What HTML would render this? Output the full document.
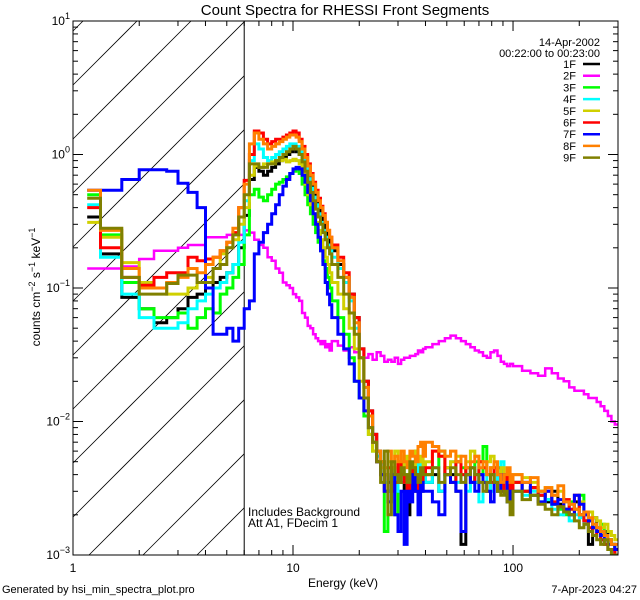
<!DOCTYPE html>
<html><head><meta charset="utf-8">
<style>
html,body{margin:0;padding:0;background:#fff;width:640px;height:600px;overflow:hidden;}
svg{display:block;font-family:"Liberation Sans",sans-serif;}
</style></head>
<body>
<svg id="chart" width="640" height="600" viewBox="0 0 640 600" xmlns="http://www.w3.org/2000/svg">
<rect x="0" y="0" width="640" height="600" fill="#fff"/>
<text x="345" y="15" font-size="15" text-anchor="middle">Count Spectra for RHESSI Front Segments</text>
<text x="343" y="587" font-size="12" text-anchor="middle">Energy (keV)</text>
<text transform="translate(40,287) rotate(-90)" font-size="12" text-anchor="middle">counts cm<tspan dy="-5" font-size="9">−2</tspan><tspan dy="5"> s</tspan><tspan dy="-5" font-size="9">−1</tspan><tspan dy="5"> keV</tspan><tspan dy="-5" font-size="9">−1</tspan></text>
<text x="2" y="593" font-size="11">Generated by hsi_min_spectra_plot.pro</text>
<text x="637" y="593" font-size="11" text-anchor="end">7-Apr-2023 04:27</text>
<text x="600" y="46" font-size="11" text-anchor="end">14-Apr-2002</text>
<text x="600" y="57" font-size="11" text-anchor="end">00:22:00 to 00:23:00</text>
<text x="248" y="516" font-size="12">Includes Background</text>
<text x="248" y="527" font-size="12">Att A1, FDecim 1</text>
<g id="layer"></g>
</svg>
<script>
// ---- data ----
const segmentNames = ["1F","2F","3F","4F","5F","6F","7F","8F","9F"];
const segmentColors = ["#000000","#ff00ff","#00ff00","#00ffff","#d0d000","#ff0000","#0000ff","#ff8000","#808000"];
const xTickLabels = ["1","10","100"];
const xTickValues = [1,10,100];
const yTickExps = [1,0,-1,-2,-3];

const seg1F = [0.34,0.18,0.085,0.07,0.055,0.06,0.07,0.085,0.09,0.10,0.11,0.12,0.13,0.15,0.20,0.35,0.65,0.80,0.75,0.70,0.75,0.80,0.85,0.90,0.95,1.0,1.05,1.1,1.05,1.0,0.9,0.8,0.7,0.6,0.52,0.45,0.40,0.34,0.30,0.26,0.23,0.21,
 0.19,0.15,0.12,0.09,0.06,0.035,0.02,0.012,0.008,0.006,0.005,0.004,0.0035,0.004,0.003,0.0045,0.0035,0.003,0.002,0.004,0.0035,0.003,0.0045,0.003,0.004,
 0.0035,0.004,0.003,0.0045,0.004,0.003,0.0012,0.004,0.0045,0.0035,0.004,0.0035,0.003,0.004,0.0035,0.0045,0.004,0.003,0.0025,0.0035,
 0.0035,0.003,0.0032,0.0028,0.0025,0.003,0.0024,0.0022,0.002,0.0025,0.002,0.0018,0.0012,0.0019,0.0016,0.0014,0.0015,0.0013,0.0012,0.0009];
const seg2F = [0.14,0.14,0.145,0.165,0.19,0.19,0.20,0.21,0.21,0.24,0.24,0.24,0.25,0.25,0.25,0.27,0.26,0.23,0.21,0.20,0.17,0.16,0.14,0.13,0.11,0.105,0.10,0.09,0.085,0.08,0.065,0.06,0.052,0.05,0.045,0.042,0.04,0.038,0.04,0.036,0.038,0.034,
 0.04,0.037,0.034,0.036,0.033,0.035,0.03,0.032,0.029,0.033,0.031,0.028,0.029,0.028,0.03,0.027,0.029,0.030,0.03,0.031,0.031,0.032,0.034,0.033,0.035,
 0.036,0.038,0.040,0.042,0.044,0.042,0.040,0.038,0.036,0.034,0.033,0.031,0.030,0.033,0.034,0.031,0.028,0.027,0.026,0.027,
 0.026,0.024,0.023,0.022,0.025,0.023,0.021,0.020,0.018,0.017,0.017,0.016,0.015,0.015,0.014,0.013,0.012,0.011,0.010,0.0095];
const seg3F = [0.50,0.25,0.11,0.07,0.06,0.06,0.065,0.05,0.06,0.07,0.065,0.09,0.10,0.12,0.15,0.25,0.50,0.55,0.48,0.45,0.50,0.55,0.60,0.62,0.65,0.68,0.72,0.75,0.78,0.72,0.6,0.5,0.42,0.36,0.30,0.26,0.22,0.19,0.16,0.14,0.12,0.10,
 0.08,0.06,0.045,0.03,0.02,0.015,0.011,0.008,0.006,0.005,0.004,0.0015,0.003,0.0045,0.002,0.0035,0.005,0.004,0.003,0.0045,0.004,0.006,0.005,0.0035,0.004,
 0.004,0.0045,0.006,0.004,0.0035,0.005,0.0045,0.004,0.0035,0.005,0.004,0.0065,0.004,0.0045,0.0035,0.003,0.0035,0.003,0.0028,0.0025,
 0.0035,0.003,0.0028,0.003,0.0026,0.0024,0.0022,0.002,0.0025,0.0022,0.0028,0.002,0.0018,0.0016,0.0015,0.0017,0.0014,0.0013,0.0012,0.0011];
const seg4F = [0.42,0.17,0.09,0.06,0.05,0.05,0.055,0.07,0.08,0.09,0.10,0.11,0.13,0.15,0.22,0.45,0.90,1.2,1.1,0.95,0.9,0.95,1.0,1.05,1.1,1.15,1.2,1.2,1.15,1.05,0.9,0.78,0.66,0.56,0.48,0.42,0.36,0.31,0.27,0.24,0.21,0.19,
 0.17,0.14,0.11,0.08,0.05,0.03,0.018,0.011,0.007,0.0055,0.004,0.0035,0.003,0.004,0.003,0.0045,0.004,0.0035,0.003,0.004,0.0035,0.003,0.005,0.0035,0.004,
 0.0035,0.0045,0.003,0.004,0.005,0.0035,0.004,0.003,0.0045,0.0035,0.0025,0.004,0.0035,0.003,0.004,0.0035,0.005,0.003,0.0025,0.003,
 0.003,0.0028,0.003,0.0025,0.0026,0.0022,0.002,0.0025,0.0018,0.002,0.0019,0.0017,0.0015,0.0014,0.0016,0.0013,0.0012,0.0011,0.0010,0.0010];
const seg5F = [0.31,0.24,0.155,0.11,0.10,0.09,0.09,0.10,0.11,0.12,0.14,0.18,0.20,0.23,0.30,0.40,0.70,0.82,0.80,0.85,0.85,0.88,0.90,0.90,0.92,0.88,0.90,0.92,0.90,0.85,0.75,0.6,0.5,0.42,0.36,0.31,0.27,0.23,0.2,0.17,0.15,0.13,
 0.11,0.09,0.07,0.05,0.035,0.02,0.012,0.008,0.006,0.005,0.0045,0.004,0.005,0.0045,0.006,0.005,0.0045,0.0055,0.005,0.004,0.0045,0.006,0.005,0.0055,0.0045,
 0.005,0.006,0.0055,0.0045,0.005,0.0055,0.004,0.005,0.006,0.0055,0.005,0.0045,0.005,0.0055,0.0045,0.004,0.0045,0.0035,0.004,0.0035,
 0.004,0.0038,0.0035,0.003,0.0032,0.0028,0.003,0.0026,0.0024,0.0022,0.0025,0.002,0.0021,0.0019,0.0018,0.0016,0.0017,0.0015,0.0014,0.0013];
const seg6F = [0.40,0.20,0.12,0.105,0.12,0.13,0.13,0.17,0.16,0.165,0.17,0.19,0.22,0.26,0.40,0.64,1.0,1.5,1.45,1.3,1.2,1.25,1.3,1.3,1.35,1.4,1.45,1.5,1.45,1.3,1.15,1.0,0.85,0.72,0.62,0.54,0.47,0.41,0.36,0.31,0.27,0.24,
 0.21,0.17,0.13,0.09,0.06,0.035,0.02,0.012,0.008,0.005,0.004,0.003,0.0045,0.003,0.0035,0.005,0.004,0.0035,0.003,0.004,0.0045,0.003,0.004,0.0035,0.004,
 0.0045,0.006,0.0055,0.004,0.0035,0.005,0.004,0.0045,0.0035,0.004,0.005,0.0045,0.004,0.0035,0.0045,0.004,0.003,0.0035,0.004,0.003,
 0.0035,0.003,0.0032,0.0028,0.003,0.0025,0.0023,0.0026,0.0022,0.0028,0.002,0.0018,0.0016,0.0014,0.0015,0.0013,0.0012,0.0011,0.0011,0.0010];
const seg7F = [0.54,0.54,0.65,0.77,0.77,0.75,0.61,0.52,0.40,0.10,0.045,0.045,0.05,0.04,0.05,0.07,0.08,0.18,0.22,0.26,0.30,0.36,0.42,0.50,0.58,0.65,0.72,0.78,0.80,0.78,0.70,0.62,0.52,0.45,0.36,0.30,0.24,0.19,0.15,0.11,0.09,0.075,
 0.06,0.045,0.035,0.027,0.02,0.015,0.012,0.009,0.007,0.005,0.004,0.003,0.0025,0.004,0.002,0.0015,0.003,0.0012,0.003,0.0025,0.004,0.003,0.002,0.0035,0.003,
 0.003,0.0025,0.002,0.004,0.0035,0.003,0.0015,0.004,0.0035,0.003,0.004,0.0035,0.003,0.0025,0.0035,0.003,0.004,0.0035,0.0025,0.003,
 0.003,0.0035,0.0028,0.0025,0.003,0.0024,0.0026,0.0022,0.002,0.0028,0.0024,0.002,0.0018,0.0016,0.0015,0.0014,0.0013,0.0012,0.0012,0.0011];
const seg8F = [0.54,0.27,0.14,0.10,0.10,0.11,0.12,0.14,0.13,0.15,0.17,0.19,0.22,0.28,0.40,0.60,1.2,1.45,1.3,1.2,1.1,1.15,1.2,1.25,1.3,1.35,1.4,1.4,1.35,1.25,1.1,0.95,0.82,0.7,0.6,0.52,0.45,0.4,0.35,0.31,0.27,0.24,
 0.2,0.16,0.12,0.085,0.055,0.03,0.018,0.011,0.007,0.006,0.005,0.0045,0.006,0.005,0.0055,0.005,0.006,0.005,0.0045,0.006,0.0055,0.005,0.0065,0.007,0.0055,
 0.007,0.0065,0.006,0.0055,0.006,0.005,0.0055,0.0045,0.005,0.0055,0.0045,0.005,0.004,0.0045,0.005,0.004,0.0035,0.004,0.0045,0.0035,
 0.004,0.0035,0.0038,0.003,0.0032,0.0028,0.0033,0.0025,0.0024,0.0022,0.002,0.0021,0.0019,0.0017,0.0016,0.0015,0.0014,0.0013,0.0012,0.0012];
const seg9F = [0.47,0.28,0.12,0.09,0.09,0.108,0.125,0.125,0.11,0.11,0.14,0.15,0.20,0.25,0.34,0.50,0.85,0.85,0.80,0.80,0.85,0.85,0.90,0.95,1.0,1.05,1.1,1.15,1.1,1.0,0.88,0.75,0.62,0.52,0.45,0.39,0.34,0.30,0.26,0.23,0.2,0.18,
 0.15,0.12,0.09,0.065,0.045,0.03,0.015,0.009,0.007,0.005,0.0035,0.006,0.002,0.005,0.004,0.0035,0.0045,0.004,0.0035,0.005,0.0045,0.004,0.0035,0.0045,0.004,
 0.004,0.0045,0.0035,0.004,0.0045,0.004,0.0035,0.004,0.0045,0.004,0.0035,0.003,0.0035,0.004,0.0035,0.003,0.0028,0.003,0.0025,0.002,
 0.003,0.0026,0.0028,0.0024,0.0022,0.002,0.0023,0.0021,0.002,0.0018,0.0016,0.0017,0.0015,0.0014,0.0013,0.0012,0.0013,0.0011,0.001,0.001];
const seriesValues = [seg1F,seg2F,seg3F,seg4F,seg5F,seg6F,seg7F,seg8F,seg9F];

// ---- layout ----
const NS = "http://www.w3.org/2000/svg";
const L = 73, R = 618, T = 21, B = 555;
const xMin = 1, xMax = 300, yMinExp = -3, yMaxExp = 1;
function xScale(e){ return L + (R - L) * (Math.log10(e) - Math.log10(xMin)) / (Math.log10(xMax) - Math.log10(xMin)); }
function yScale(v){ return B - (B - T) * (Math.log10(v) - yMinExp) / (yMaxExp - yMinExp); }
function clampY(y){ return Math.min(B + 2, Math.max(T - 2, y)); }

const edges = [1.16];
for (let i = 1; i <= 42; i++) edges.push(1 + i / 3);
for (let e = 16; e <= 40; e++) edges.push(e);
for (let e = 43; e <= 100; e += 3) edges.push(e);
for (let e = 110; e <= 300; e += 10) edges.push(e);

const layer = document.getElementById('layer');
function mk(tag, attrs){ const el = document.createElementNS(NS, tag); for (const k in attrs) el.setAttribute(k, attrs[k]); return el; }

const defs = mk('defs', {});
const cp = mk('clipPath', {id: 'plotclip'}); cp.appendChild(mk('rect', {x: L, y: T, width: R - L, height: B - T})); defs.appendChild(cp);
layer.appendChild(defs);

// hatch (computed segments inside region)
const X6 = xScale(6);
const hatch = mk('g', {stroke: '#000', 'stroke-width': 0.8});


for (let c = 158 - 54 * 10; c < 1000; c += 54) {
  const xa = Math.max(L, c - B), xb = Math.min(X6, c - T);
  if (xb - xa > 0.5) hatch.appendChild(mk('line', {x1: xa, y1: c - xa, x2: xb, y2: c - xb}));
}
layer.appendChild(hatch);
const vline = mk('line', {x1: X6, y1: T, x2: X6, y2: B, stroke: '#000', 'stroke-width': 1});


layer.appendChild(vline);

const sg = mk('g', {'clip-path': 'url(#plotclip)', fill: 'none', 'stroke-linejoin': 'miter'});
layer.appendChild(sg);
seriesValues.forEach((vals, s) => {
  let d = '';
  for (let i = 0; i < vals.length && i + 1 < edges.length; i++) {
    const x0 = xScale(edges[i]), x1 = xScale(edges[i + 1]), y = clampY(yScale(vals[i]));
    d += (i === 0 ? 'M' : 'L') + x0.toFixed(1) + ',' + y.toFixed(1) + 'L' + x1.toFixed(1) + ',' + y.toFixed(1);
  }
  const p = mk('path', {d: d, stroke: segmentColors[s], 'stroke-width': s === 1 ? 2.5 : 3});
  
  
  sg.appendChild(p);
});

const frame = mk('rect', {x: L, y: T, width: R - L, height: B - T, fill: 'none', stroke: '#000', 'stroke-width': 1});


layer.appendChild(frame);

const xt = mk('g', {stroke: '#000', 'stroke-width': 1});


layer.appendChild(xt);
for (let dec = 1; dec <= 100; dec *= 10) {
  for (let m = 1; m <= 9; m++) {
    const e = dec * m; if (e > xMax) break;
    const x = xScale(e), len = m === 1 ? 10 : 5;
    xt.appendChild(mk('line', {x1: x, y1: B, x2: x, y2: B - len}));
    xt.appendChild(mk('line', {x1: x, y1: T, x2: x, y2: T + len}));
  }
}
xTickValues.forEach((v, i) => {
  const t = mk('text', {x: xScale(v), y: B + 17, 'font-size': 12, 'text-anchor': 'middle'});
  
  
  t.textContent = xTickLabels[i];
  layer.appendChild(t);
});

const yt = mk('g', {stroke: '#000', 'stroke-width': 1});


layer.appendChild(yt);
for (let ex = yMinExp; ex < yMaxExp; ex++) {
  for (let m = 1; m <= 9; m++) {
    const y = yScale(m * Math.pow(10, ex)), len = m === 1 ? 10 : 5;
    yt.appendChild(mk('line', {x1: L, y1: y, x2: L + len, y2: y}));
    yt.appendChild(mk('line', {x1: R, y1: y, x2: R - len, y2: y}));
  }
}
yTickExps.forEach(ex => {
  const y = yScale(Math.pow(10, ex));
  const t = mk('text', {x: L - 3, y: y + 4, 'font-size': 12, 'text-anchor': 'end'});
  
  
  const b = mk('tspan', {}); b.textContent = '10';
  const sup = mk('tspan', {dy: -6, 'font-size': 9}); sup.textContent = String(ex).replace('-', '−');
  t.appendChild(b); t.appendChild(sup);
  layer.appendChild(t);
});

segmentNames.forEach((n, i) => {
  const y = 64 + i * 11.7;
  const g = mk('g', {});
  
  
  const t = mk('text', {x: 576, y: y + 4, 'font-size': 11, 'text-anchor': 'end'});
  t.textContent = n;
  g.appendChild(t);
  g.appendChild(mk('line', {x1: 583, y1: y, x2: 600, y2: y, stroke: segmentColors[i], 'stroke-width': 2.5}));
  layer.appendChild(g);
});
</script>
</body></html>
